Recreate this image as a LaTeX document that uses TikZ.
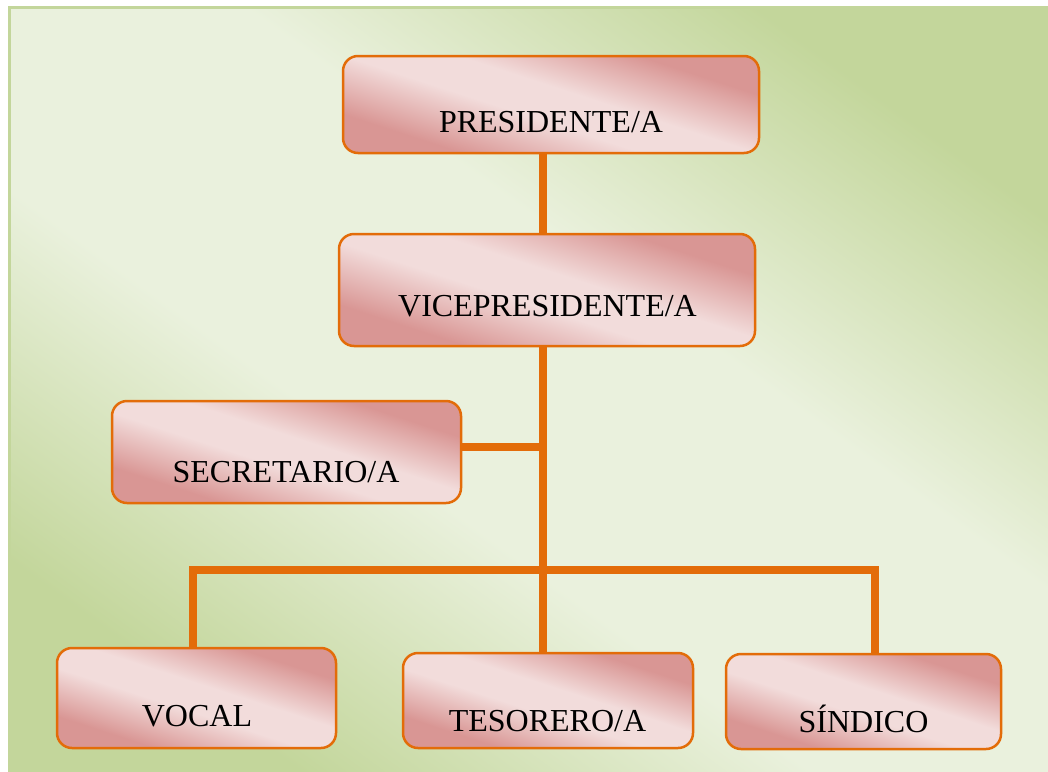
\documentclass[tikz,border=0pt]{standalone}
\usepackage{fontspec}
\setmainfont{Liberation Serif}
\definecolor{bglight}{HTML}{EAF1DD}
\definecolor{bgdark}{HTML}{C3D69B}
\definecolor{boxlight}{HTML}{F2DCDB}
\definecolor{boxdark}{HTML}{D99694}
\definecolor{orangeline}{HTML}{E36C09}
\pgfdeclarehorizontalshading{boxshade}{100bp}{color(0bp)=(boxdark); color(29bp)=(boxdark); color(45bp)=(boxlight); color(55bp)=(boxlight); color(71bp)=(boxdark); color(100bp)=(boxdark)}
\pgfdeclarehorizontalshading{bgshade}{100bp}{color(0bp)=(bgdark); color(25bp)=(bgdark); color(42bp)=(bglight); color(58bp)=(bglight); color(75bp)=(bgdark); color(100bp)=(bgdark)}
\tikzset{
  orgbox/.style={rectangle, rounded corners=15pt, draw=orangeline, line width=2.5pt,
    shading=boxshade, shading angle=72, inner sep=0pt},
  lbl/.style={font=\fontsize{32}{38}\selectfont, text=black, inner sep=0pt, anchor=base},
  conn/.style={draw=orangeline, line width=8pt}
}
\begin{document}
\begin{tikzpicture}[x=1pt,y=-1pt]
\useasboundingbox (0,0) rectangle (1048,771);
\fill[white] (0,0) rectangle (1048,771);
\shade[shading=bgshade, shading angle=54] (8,6) rectangle (1052,775);
\draw[bgdark, line width=3pt] (9.5,775) -- (9.5,7.5) -- (1052,7.5);
% boxes
\node[orgbox, minimum width=416pt, minimum height=97pt] (pres) at (551,104.5) {};
\node[orgbox, minimum width=416pt, minimum height=112pt] (vice) at (547,290) {};
\node[orgbox, minimum width=349pt, minimum height=102pt] (secr) at (286.5,452) {};
\node[orgbox, minimum width=279pt, minimum height=100pt] (vocal) at (196.5,698) {};
\node[orgbox, minimum width=290pt, minimum height=95pt] (teso) at (548,700.5) {};
\node[orgbox, minimum width=275pt, minimum height=95pt] (sind) at (863.5,701.5) {};
% labels
\node[lbl] (presT) at (551,132) {PRESIDENTE/A};
\node[lbl] (viceT) at (547.5,316) {VICEPRESIDENTE/A};
\node[lbl] (secrT) at (286,482) {SECRETARIO/A};
\node[lbl] (vocalT) at (197,726) {VOCAL};
\node[lbl] (tesoT) at (547.5,731) {TESORERO/A};
\node[lbl] (sindT) at (863.5,732) {SÍNDICO};
% junctions
\coordinate (spine) at (543,447);
\coordinate (leftj) at (193,570);
\coordinate (rightj) at (875,570);
% connectors
\draw[conn] (pres.south -| spine) -- (vice.north -| spine);
\draw[conn] (vice.south -| spine) -- (teso.north -| spine);
\draw[conn] (secr.east |- spine) -- (spine);
\draw[conn] (vocal.north -| leftj) -- (leftj) -- (rightj) -- (sind.north -| rightj);
\end{tikzpicture}
\end{document}
